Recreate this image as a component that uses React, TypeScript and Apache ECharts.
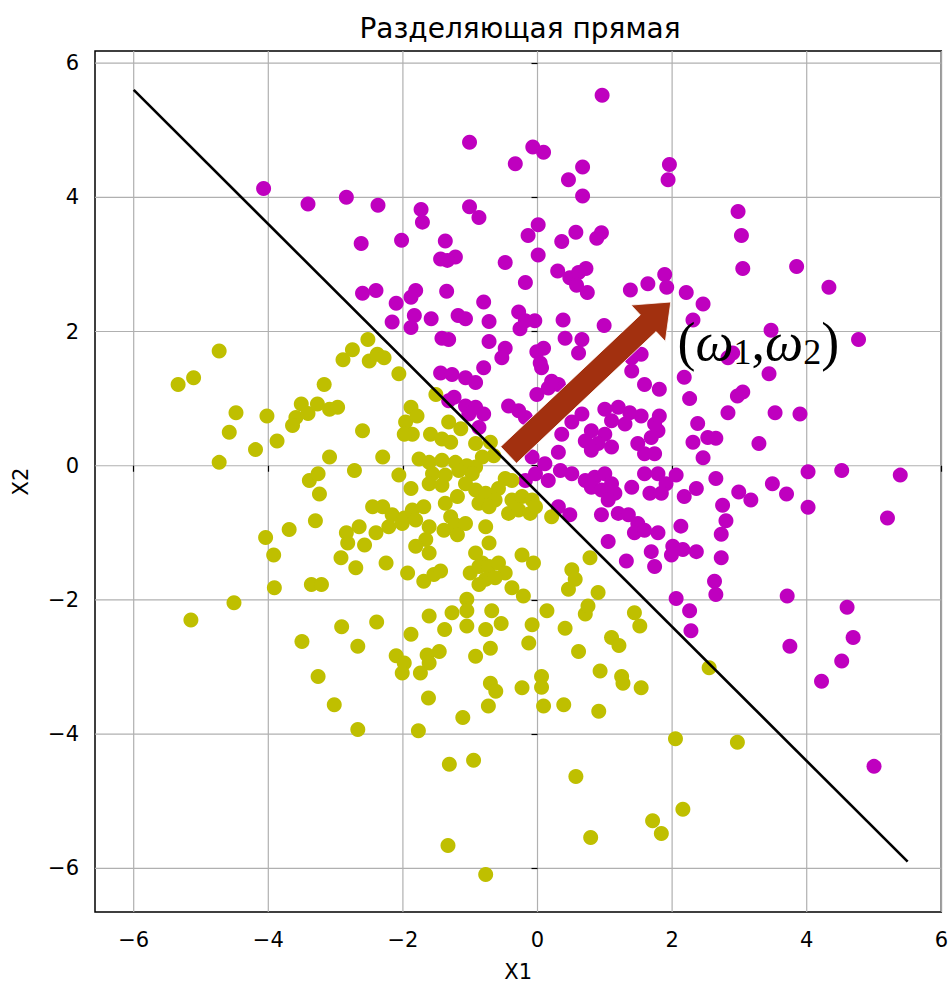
import React, { useEffect, useRef } from "react";
import * as echarts from "echarts";

// ---- data ----
const titleText = "Разделяющая прямая";
const xName = "X1";
const yName = "X2";
const xTicks = [-6, -4, -2, 0, 2, 4, 6];
const yTicks = [-6, -4, -2, 0, 2, 4, 6];
const xRange = [-6.575, 6.0];
const yRange = [-6.65, 6.18];

// separating line endpoints
const boundary = [
  [-6, 5.6],
  [5.5, -5.9],
];
// normal vector arrow: tail -> tip
const arrowSeg = [[-0.43, 0.16, 1.98, 2.44]];
const weightLabelPos = [[2.08, 1.84]];

// class +1 (magenta)
const classPos = [
  [-4.07, 4.13], [-3.41, 3.9], [-2.84, 4.0], [-2.37, 3.88], [-2.62, 3.31], [-2.6, 2.57], [-2.4, 2.61],
  [0.96, 5.52], [-1.01, 4.82], [-0.33, 4.5], [-0.07, 4.75], [0.09, 4.67], [0.67, 4.45], [0.46, 4.26], [0.67, 4.02],
  [-1.73, 3.82], [-1.71, 3.63], [-1.01, 3.86], [-0.87, 3.7], [-2.02, 3.36], [-1.37, 3.35], [-1.44, 3.08], [-1.22, 3.11], [-1.34, 3.06], [-0.48, 3.03],
  [0.01, 3.59], [-0.14, 3.43], [0.01, 3.14], [0.36, 3.34], [0.57, 3.48], [0.88, 3.39], [0.95, 3.47],
  [0.3, 2.9], [0.48, 2.8], [0.61, 2.88], [0.72, 2.94], [0.58, 2.69], [0.74, 2.58],
  [-0.18, 2.73], [1.38, 2.62], [1.64, 2.71],
  [-1.81, 2.61], [-1.88, 2.51], [-2.1, 2.42], [-1.35, 2.6], [-0.8, 2.44],
  [-2.16, 2.14], [-1.83, 2.24], [-1.88, 2.06], [-1.58, 2.19], [-1.18, 2.24], [-1.07, 2.19], [-0.72, 2.15],
  [-0.28, 2.29], [-0.18, 2.16], [-0.04, 2.16], [-0.26, 2.04], [0.38, 2.17], [0.99, 2.09],
  [1.96, 4.49], [1.94, 4.26], [2.98, 3.79], [3.03, 3.43], [3.05, 2.94], [3.85, 2.97], [4.33, 2.66],
  [1.89, 2.85], [1.92, 2.66], [2.21, 2.58], [2.46, 2.41], [2.31, 2.17], [3.47, 2.02], [4.77, 1.88],
  [2.83, 1.61], [2.9, 1.68], [2.18, 1.32], [3.44, 1.37], [2.26, 1.0], [2.97, 1.04], [3.05, 1.1], [2.83, 0.79], [3.53, 0.79], [3.9, 0.77],
  [2.38, 0.63], [2.31, 0.35], [2.53, 0.42], [2.65, 0.41], [2.46, 0.12], [3.29, 0.33],
  [2.06, -0.14], [1.91, -0.27], [2.65, -0.19], [2.36, -0.34], [2.18, -0.46], [2.99, -0.39], [3.17, -0.51], [3.49, -0.27], [3.7, -0.42],
  [4.02, -0.09], [4.02, -0.62], [4.52, -0.07], [5.39, -0.14], [5.2, -0.78], [2.75, -0.59], [2.8, -0.82], [2.73, -1.02], [2.73, -1.37], [2.63, -1.72], [2.65, -1.92],
  [2.13, -0.9], [2.01, -1.2], [2.16, -1.25], [2.36, -1.28], [1.99, -1.33], [3.71, -1.94], [4.6, -2.11], [2.06, -1.98], [2.26, -2.16],
  [2.28, -2.46], [3.75, -2.69], [4.69, -2.56], [4.52, -2.91], [4.22, -3.21], [5.0, -4.48],
  [-1.42, 1.9], [-1.32, 1.88], [-0.72, 1.85], [-0.48, 1.75], [-0.53, 1.61], [-0.01, 1.7], [0.09, 1.75], [0.04, 1.53], [0.06, 1.46], [0.41, 1.9], [0.66, 1.88], [0.61, 1.68], [-0.8, 1.46],
  [-1.44, 1.38], [-1.27, 1.36], [-1.07, 1.31], [-0.92, 1.24],
  [-1.24, 1.02], [-1.07, 0.89], [-0.92, 0.87], [-0.8, 0.77], [-1.02, 0.77], [-0.87, 0.57], [-1.32, 0.97],
  [-0.43, 0.89], [-0.28, 0.82], [-0.18, 0.72],
  [-0.01, 1.06], [0.16, 1.16], [0.31, 1.21], [0.21, 1.26],
  [1.4, 1.61], [1.54, 1.66], [1.4, 1.41], [1.59, 1.21], [1.81, 1.14],
  [1.0, 0.84], [1.2, 0.87], [1.37, 0.79], [1.54, 0.74], [1.1, 0.67], [1.3, 0.62],
  [0.66, 0.77], [0.51, 0.65], [0.36, 0.47],
  [0.8, 0.52], [1.0, 0.47], [0.71, 0.37], [0.9, 0.33], [1.1, 0.28], [0.8, 0.23], [0.31, 0.2],
  [1.49, 0.33], [1.69, 0.42], [1.79, 0.52], [1.59, 0.18], [1.74, 0.18], [1.74, 0.62], [1.81, 0.74],
  [-0.08, 0.13], [0.11, 0.03], [-0.03, -0.12], [0.16, -0.22], [-0.18, -0.22],
  [0.34, -0.07], [0.51, -0.12], [0.71, -0.22], [0.85, -0.17], [1.0, -0.12], [1.1, -0.27],
  [0.8, -0.32], [0.95, -0.36], [1.15, -0.41], [1.05, -0.51], [1.4, -0.32],
  [1.67, -0.41], [1.79, -0.12], [1.59, -0.12], [1.84, -0.41],
  [0.31, -0.61], [0.48, -0.73],
  [0.95, -0.73], [1.2, -0.71], [1.35, -0.73], [1.49, -0.86], [1.44, -1.0], [1.59, -0.96],
  [1.05, -1.13], [1.32, -1.42], [1.69, -1.28], [1.74, -1.5], [1.79, -1.0],
];

// class -1 (olive)
const classNeg = [
  [-4.73, 1.71], [-5.34, 1.21], [-5.11, 1.31], [-4.48, 0.79], [-4.58, 0.5], [-4.02, 0.74], [-3.87, 0.37], [-4.19, 0.24], [-4.73, 0.05],
  [-3.17, 1.21], [-2.89, 1.58], [-2.75, 1.73], [-2.52, 1.88], [-2.5, 1.56], [-2.38, 1.66],
  [-3.51, 0.92], [-3.59, 0.72], [-3.64, 0.6], [-3.41, 0.78], [-3.27, 0.92], [-3.09, 0.84], [-2.97, 0.87],
  [-2.6, 0.52], [-3.09, 0.13], [-2.72, -0.07], [-3.39, -0.22], [-3.26, -0.12], [-3.24, -0.42],
  [-3.3, -0.82], [-3.69, -0.95], [-4.04, -1.07], [-3.92, -1.33], [-3.91, -1.82], [-4.51, -2.04], [-5.15, -2.3],
  [-3.36, -1.77], [-3.21, -1.77], [-2.92, -1.37], [-2.7, -1.52],
  [-2.84, -1.0], [-2.65, -0.91], [-2.82, -1.15], [-2.57, -1.18], [-2.45, -0.61], [-2.4, -1.0],
  [-3.5, -2.62], [-2.91, -2.4], [-2.67, -2.69], [-2.39, -2.33], [-3.26, -3.14], [-3.02, -3.56], [-2.67, -3.93],
  [-1.88, -2.51], [-1.38, -2.44], [-1.05, -2.39], [-0.77, -2.44], [-0.54, -2.35], [-0.08, -2.37], [0.41, -2.42], [1.52, -2.39],
  [-2.1, -2.83], [-1.98, -2.94], [-2.01, -3.09], [-1.64, -2.82], [-1.46, -2.77], [-1.61, -2.94], [-1.74, -3.09],
  [-0.92, -2.84], [-0.7, -2.72], [-0.13, -2.64], [0.61, -2.77], [1.1, -2.56], [1.21, -2.68], [0.93, -3.06], [1.25, -3.14], [1.27, -3.24], [1.54, -3.31],
  [-0.7, -3.24], [-0.62, -3.36], [-0.23, -3.31], [0.06, -3.14], [0.06, -3.3], [0.09, -3.58], [0.39, -3.56], [0.91, -3.66],
  [-1.62, -3.46], [-0.73, -3.58], [-1.11, -3.75], [-1.77, -3.95], [-1.31, -4.45], [-0.95, -4.39], [0.57, -4.63],
  [1.71, -5.29], [1.84, -5.48], [0.79, -5.54], [-1.33, -5.66], [-0.77, -6.09],
  [2.55, -3.01], [2.05, -4.07], [2.97, -4.12], [2.16, -5.12],
  [-2.28, 1.61], [-2.06, 1.37], [-2.3, 0.13],
  [-1.88, 0.87], [-1.96, 0.65], [-1.79, 0.74], [-1.86, 0.47], [-1.98, 0.47],
  [-1.59, 0.47], [-1.42, 0.4], [-1.29, 0.35], [-1.51, 1.06], [-1.32, 0.65], [-1.14, 0.55],
  [-0.92, 0.33], [-0.7, 0.35], [-0.65, 0.15], [-0.82, 0.13],
  [-1.76, 0.1], [-1.61, 0.05], [-1.42, 0.08], [-1.22, 0.05], [-1.05, 0.0], [-0.92, -0.02],
  [-2.06, -0.14], [-1.88, -0.34],
  [-1.56, -0.12], [-1.37, -0.14], [-1.17, -0.07], [-0.97, -0.12], [-1.61, -0.27], [-1.42, -0.29], [-1.07, -0.27],
  [-0.48, -0.19], [-0.38, -0.22], [-0.58, -0.34],
  [-1.19, -0.46], [-0.92, -0.36], [-0.77, -0.41], [-0.63, -0.51], [-0.87, -0.56], [-0.72, -0.61],
  [-0.38, -0.51], [-0.23, -0.46], [-0.08, -0.51], [-0.43, -0.71], [-0.28, -0.66], [-0.11, -0.71], [-0.03, -0.61],
  [0.21, -0.76],
  [-2.3, -0.61], [-2.16, -0.73], [-1.98, -0.78], [-1.86, -0.66], [-1.69, -0.61], [-2.21, -0.91], [-2.01, -0.86], [-1.81, -0.81],
  [-1.61, -0.91], [-1.66, -1.1],
  [-1.37, -0.56], [-1.29, -0.76], [-1.39, -0.96], [-1.22, -0.88], [-1.07, -0.86],
  [-1.81, -1.2], [-1.61, -1.3], [-1.19, -1.03], [-0.77, -0.91], [-0.72, -1.15], [-0.92, -1.3], [-0.82, -1.45],
  [-2.25, -1.45], [-1.93, -1.6], [-1.69, -1.72], [-1.54, -1.62], [-1.44, -1.57],
  [-1.0, -1.6], [-0.87, -1.5], [-0.72, -1.5], [-0.58, -1.45], [-0.48, -1.6], [-0.77, -1.69], [-0.63, -1.67], [-0.87, -1.77],
  [-0.23, -1.33], [-0.06, -1.45], [-0.38, -1.82], [-0.21, -1.94], [0.14, -2.16], [-1.61, -2.24], [-1.05, -1.99], [-1.05, -2.16], [-0.68, -2.16], [-1.27, -2.19],
  [0.51, -1.55], [0.56, -1.69], [0.46, -1.84], [0.78, -1.37], [0.9, -1.89], [0.71, -2.21], [0.75, -2.09], [1.44, -2.19],
];

const FONT = "DejaVu Sans";
const fmt = (v: number) => (v < 0 ? "\u2212" + Math.abs(v) : String(v));

export default function App() {
  const ref = useRef<HTMLDivElement>(null);
  useEffect(() => {
    document.body.style.margin = "0";
    const chart = echarts.init(ref.current!, null, { renderer: "svg" });
    const option: any = {
      animation: false,
      backgroundColor: "#ffffff",
      grid: {
        left: 95,
        top: 51,
        width: 850,
        height: 867,
        show: true,
        borderColor: "#000000",
        borderWidth: 1.5,
        backgroundColor: "transparent",
      },
      graphic: [
        {
          type: "text",
          x: 520,
          y: 28,
          style: {
            text: titleText,
            font: `28px '${FONT}'`,
            fill: "#000",
            align: "center",
            verticalAlign: "middle",
          },
        },
      ],
      xAxis: {
        type: "value",
        min: xRange[0],
        max: xRange[1],
        name: xName,
        nameLocation: "middle",
        nameGap: 49,
        nameTextStyle: { fontFamily: FONT, fontSize: 21, color: "#000" },
        axisLine: { show: false },
        axisTick: { show: true, length: 6, customValues: xTicks, lineStyle: { color: "#000", width: 1.2 } },
        axisLabel: {
          customValues: xTicks,
          formatter: fmt,
          fontFamily: FONT,
          fontSize: 21,
          color: "#000",
          margin: 17,
        },
        splitLine: { show: false },
      },
      yAxis: {
        type: "value",
        min: yRange[0],
        max: yRange[1],
        name: yName,
        nameLocation: "middle",
        nameGap: 64,
        nameTextStyle: { fontFamily: FONT, fontSize: 21, color: "#000" },
        axisLine: { show: false },
        axisTick: { show: true, length: 6, customValues: yTicks, lineStyle: { color: "#000", width: 1.2 } },
        axisLabel: {
          customValues: yTicks,
          formatter: fmt,
          fontFamily: FONT,
          fontSize: 21,
          color: "#000",
          margin: 16,
        },
        splitLine: { show: false },
      },
      series: [
        {
          type: "custom",
          name: "gridX",
          z: 0,
          silent: true,
          clip: false,
          data: xTicks.map((v) => [v, 0]),
          renderItem: (params: any, api: any) => {
            const v = api.value(0);
            const a = api.coord([v, yRange[0]]);
            const b = api.coord([v, yRange[1]]);
            return {
              type: "line",
              shape: { x1: a[0], y1: a[1], x2: b[0], y2: b[1] },
              style: { stroke: "#b0b0b0", lineWidth: 1.2 },
            };
          },
        },
        {
          type: "custom",
          name: "gridY",
          z: 0,
          silent: true,
          clip: false,
          data: yTicks.map((v) => [0, v]),
          renderItem: (params: any, api: any) => {
            const v = api.value(1);
            const a = api.coord([xRange[0], v]);
            const b = api.coord([xRange[1], v]);
            return {
              type: "line",
              shape: { x1: a[0], y1: a[1], x2: b[0], y2: b[1] },
              style: { stroke: "#b0b0b0", lineWidth: 1.2 },
            };
          },
        },
        {
          type: "scatter",
          name: "class +1",
          z: 2,
          symbol: "circle",
          symbolSize: 15,
          itemStyle: { color: "#bf00bf", opacity: 1 },
          data: classPos,
        },
        {
          type: "scatter",
          name: "class -1",
          z: 2,
          symbol: "circle",
          symbolSize: 15,
          itemStyle: { color: "#bfbf00", opacity: 1 },
          data: classNeg,
        },
        {
          type: "line",
          name: "boundary",
          z: 3,
          symbol: "none",
          lineStyle: { color: "#000", width: 2.6 },
          data: boundary,
        },
        {
          type: "custom",
          name: "w",
          z: 4,
          clip: false,
          encode: { x: [0, 2], y: [1, 3] },
          data: arrowSeg,
          renderItem: (params: any, api: any) => {
            const p0 = api.coord([api.value(0), api.value(1)]);
            const p1 = api.coord([api.value(2), api.value(3)]);
            const dx = p1[0] - p0[0];
            const dy = p1[1] - p0[1];
            const len = Math.hypot(dx, dy);
            const ux = dx / len;
            const uy = dy / len;
            const nx = -uy;
            const ny = ux;
            const sw = 11.5;
            const hw = 25;
            const hl = 31;
            const bx = p1[0] - ux * hl;
            const by = p1[1] - uy * hl;
            const points = [
              [p0[0] + nx * sw, p0[1] + ny * sw],
              [bx + nx * sw, by + ny * sw],
              [bx + nx * hw, by + ny * hw],
              [p1[0], p1[1]],
              [bx - nx * hw, by - ny * hw],
              [bx - nx * sw, by - ny * sw],
              [p0[0] - nx * sw, p0[1] - ny * sw],
            ];
            return {
              type: "polygon",
              shape: { points },
              style: { fill: "#a2300f", stroke: "#ffffff", lineWidth: 0.8 },
            };
          },
        },
        {
          type: "custom",
          name: "wlabel",
          z: 5,
          clip: false,
          data: weightLabelPos,
          renderItem: (params: any, api: any) => {
            const p = api.coord([api.value(0), api.value(1)]);
            return {
              type: "text",
              x: p[0],
              y: p[1],
              style: {
                text: "{p|(}{w|ω}{s|1}{p|,}{w|ω}{s|2}{p|)}",
                align: "left",
                verticalAlign: "middle",
                fill: "#000",
                rich: {
                  p: { fontFamily: "Liberation Serif", fontSize: 54, fill: "#000" },
                  w: { fontFamily: "Liberation Serif", fontStyle: "italic", fontSize: 54, fill: "#000" },
                  s: { fontFamily: "Liberation Serif", fontSize: 36, fill: "#000", padding: [20, 0, 0, 0] },
                },
              },
            };
          },
        },
      ],
    };
    chart.setOption(option);
    return () => chart.dispose();
  }, []);
  return <div ref={ref} style={{ width: 951, height: 987 }} />;
}
